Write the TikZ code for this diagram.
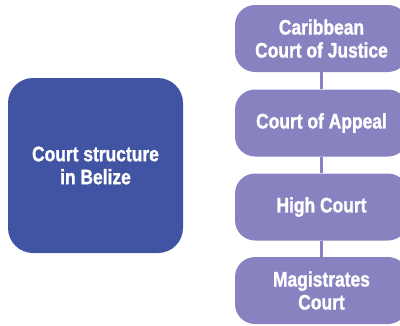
\documentclass[tikz,border=0pt]{standalone}
\usepackage{fontspec}
\newfontfamily\courtfont{Liberation Sans Bold}[FakeStretch=0.83, FakeBold=1.2]
\definecolor{darkbox}{RGB}{65,84,163}
\definecolor{lightbox}{RGB}{136,131,192}
\tikzset{
  bigbox/.style={fill=darkbox, rounded corners=25pt, minimum width=175pt, minimum height=175pt, inner sep=0pt, text=white, align=center, font=\courtfont\fontsize{21}{23}\selectfont},
  courtbox/.style={fill=lightbox, rounded corners=20pt, minimum width=173pt, minimum height=67pt, inner sep=0pt, text=white, align=center, font=\courtfont\fontsize{21}{23}\selectfont},
  link/.style={draw=lightbox, line width=2.5pt}
}
\begin{document}
\begin{tikzpicture}[x=1pt,y=-1pt]
\useasboundingbox (0,0) rectangle (400,325);
\clip (0,0) rectangle (400,325);
\node[bigbox] (belize) at (95.5,165.5) {Court structure\\in Belize};
\node[courtbox] (ccj) at (321.5,38.5) {Caribbean\\Court of Justice};
\node[courtbox] (appeal) at (321.5,123) {Court of Appeal};
\node[courtbox] (high) at (321.5,207) {High Court};
\node[courtbox] (mag) at (321.5,290.5) {Magistrates\\Court};
\draw[link] (ccj.south) -- (appeal.north);
\draw[link] (appeal.south) -- (high.north);
\draw[link] (high.south) -- (mag.north);
\end{tikzpicture}
\end{document}
